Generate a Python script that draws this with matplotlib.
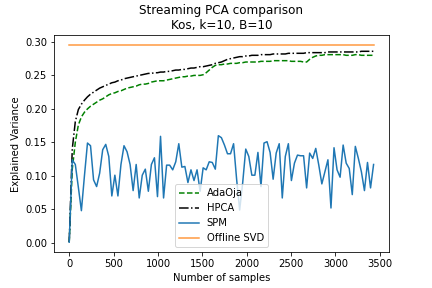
import numpy as np
import matplotlib
matplotlib.use("Agg")
import matplotlib.pyplot as plt

# ------------------------
# Data
# ------------------------
n_samples = np.linspace(0, 3430, 101)

adaoja = [
    0.001, 0.110, 0.150, 0.176, 0.188, 0.195, 0.200, 0.204, 0.207, 0.210,
    0.213, 0.215, 0.218, 0.221, 0.223, 0.224, 0.226, 0.227, 0.229, 0.231,
    0.232, 0.233, 0.234, 0.236, 0.237, 0.237, 0.238, 0.240, 0.241, 0.242,
    0.242, 0.242, 0.243, 0.244, 0.245, 0.246, 0.247, 0.248, 0.248, 0.249,
    0.249, 0.250, 0.250, 0.250, 0.251, 0.254, 0.258, 0.262, 0.265, 0.266,
    0.266, 0.267, 0.267, 0.268, 0.268, 0.268, 0.269, 0.269, 0.270, 0.270,
    0.270, 0.270, 0.270, 0.271, 0.271, 0.271, 0.271, 0.272, 0.272, 0.272,
    0.272, 0.272, 0.272, 0.271, 0.271, 0.271, 0.271, 0.270, 0.270, 0.274,
    0.277, 0.279, 0.280, 0.280, 0.281, 0.281, 0.281, 0.281, 0.281, 0.281,
    0.281, 0.280, 0.280, 0.280, 0.281, 0.281, 0.280, 0.280, 0.280, 0.280,
    0.280,
]

hpca = [
    0.001, 0.140, 0.181, 0.199, 0.207, 0.213, 0.218, 0.222, 0.225, 0.228,
    0.231, 0.233, 0.235, 0.237, 0.239, 0.240, 0.242, 0.243, 0.245, 0.246,
    0.247, 0.248, 0.249, 0.250, 0.251, 0.252, 0.253, 0.253, 0.254, 0.254,
    0.255, 0.255, 0.256, 0.256, 0.257, 0.258, 0.258, 0.259, 0.259, 0.260,
    0.261, 0.261, 0.262, 0.263, 0.263, 0.264, 0.265, 0.266, 0.268, 0.269,
    0.270, 0.272, 0.274, 0.275, 0.276, 0.277, 0.278, 0.278, 0.279, 0.279,
    0.280, 0.280, 0.280, 0.281, 0.281, 0.281, 0.281, 0.282, 0.282, 0.282,
    0.282, 0.282, 0.283, 0.283, 0.283, 0.283, 0.283, 0.283, 0.284, 0.284,
    0.284, 0.284, 0.284, 0.284, 0.284, 0.285, 0.285, 0.285, 0.285, 0.285,
    0.285, 0.285, 0.285, 0.285, 0.285, 0.285, 0.286, 0.286, 0.286, 0.286,
    0.286,
]

spm = [
    0.001, 0.124, 0.117, 0.083, 0.048, 0.100, 0.149, 0.145, 0.094, 0.084,
    0.104, 0.139, 0.147, 0.129, 0.070, 0.101, 0.070, 0.117, 0.145, 0.136,
    0.117, 0.078, 0.117, 0.067, 0.101, 0.110, 0.077, 0.117, 0.127, 0.069,
    0.159, 0.067, 0.116, 0.116, 0.109, 0.121, 0.148, 0.113, 0.114, 0.090,
    0.109, 0.093, 0.109, 0.077, 0.112, 0.109, 0.121, 0.120, 0.110, 0.160,
    0.157, 0.146, 0.133, 0.133, 0.148, 0.095, 0.049, 0.090, 0.140, 0.129,
    0.101, 0.101, 0.135, 0.084, 0.149, 0.151, 0.135, 0.095, 0.134, 0.148,
    0.067, 0.129, 0.148, 0.093, 0.119, 0.131, 0.130, 0.130, 0.082, 0.134,
    0.126, 0.141, 0.116, 0.088, 0.106, 0.124, 0.052, 0.142, 0.109, 0.098,
    0.146, 0.119, 0.111, 0.072, 0.144, 0.126, 0.106, 0.078, 0.120, 0.082,
    0.117,
]

offline_svd = 0.295

# ------------------------
# Plot
# ------------------------
fig, ax = plt.subplots(figsize=(6, 4), dpi=72)
fig.subplots_adjust(left=0.125, right=0.9, bottom=0.125, top=0.877)

ax.plot(n_samples, adaoja, 'g--', label='AdaOja')
ax.plot(n_samples, hpca, 'k-.', label='HPCA')
ax.plot(n_samples, spm, color='C0', label='SPM')
ax.plot(n_samples, [offline_svd] * len(n_samples), color='C1', alpha=0.8,
        label='Offline SVD')

ax.set_xlabel("Number of samples")
ax.set_ylabel("Explained Variance")
ax.set_title("Streaming PCA comparison\nKos, k=10, B=10")
ax.legend(loc='lower center')

plt.savefig("out.png", dpi=72)
